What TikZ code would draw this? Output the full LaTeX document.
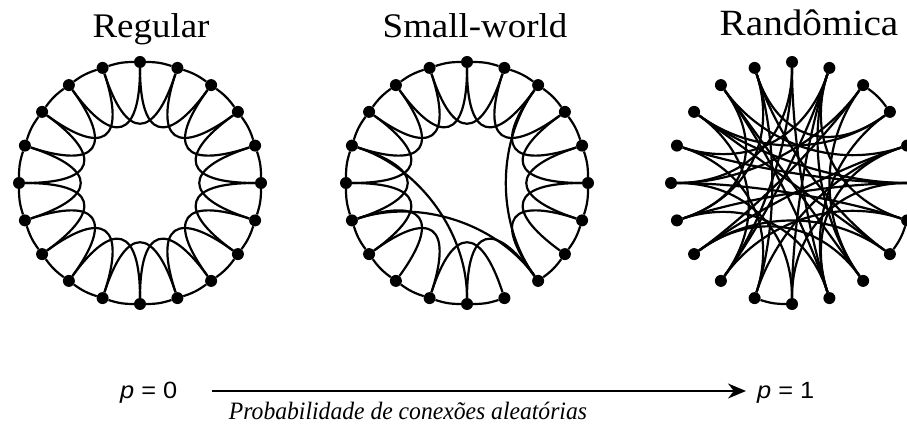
\documentclass[tikz,border=0pt]{standalone}
\usepackage{graphicx}
\usepackage{fontspec}
\setmainfont{Liberation Serif}
\newfontfamily\sansf{Liberation Sans}
\usetikzlibrary{calc,arrows.meta}
\begin{document}
\begin{tikzpicture}[x=1pt,y=1pt,
  dot/.style={circle,fill=black,inner sep=0pt,minimum size=12pt},
  edge/.style={line width=2.2pt,black},
  ring/.style={edge,bend left=9},
  title/.style={font=\fontsize{34.5}{38}\selectfont,inner sep=0pt,anchor=base},
  lab/.style={font=\sansf\fontsize{23.5}{26}\selectfont,inner sep=0pt,anchor=base west}]
\useasboundingbox (0,0) rectangle (907,426);
\clip (0,0) rectangle (907,426);
% titles
\node[title] (t1) at (151,388) {\scalebox{1.07}[1]{Regular}};
\node[title] (t2) at (475,388) {\scalebox{1.07}[1]{Small-world}};
\node[title,font=\fontsize{37}{40}\selectfont] (t3) at (809,390) {\scalebox{1.06}[1]{Randômica}};
% nodes
\foreach \g/\cx in {r/140,s/467,n/792}{
  \foreach \k in {0,...,19}{
    \node[dot] (\g\k) at ($(\cx,243)+({90-18*\k}:121)$) {};
  }
}
% regular lattice
\foreach \i in {0,...,19}{
  \pgfmathtruncatemacro\j{mod(\i+1,20)}
  \pgfmathtruncatemacro\m{mod(\i+2,20)}
  \pgfmathtruncatemacro\ao{270-18*\i}
  \pgfmathtruncatemacro\ai{270-18*\m}
  \draw[ring] (r\i) to (r\j);
  \draw[edge] (r\i) to[out=\ao,in=\ai,distance=70pt] (r\m);
}
% small world
\foreach \i in {0,...,19}{
  \pgfmathtruncatemacro\j{mod(\i+1,20)}
  \pgfmathtruncatemacro\m{mod(\i+2,20)}
  \pgfmathtruncatemacro\ao{270-18*\i}
  \pgfmathtruncatemacro\ai{270-18*\m}
  \ifnum\i=8 \else \draw[ring] (s\i) to (s\j); \fi
  \ifnum\i=7 \else \ifnum\i=10 \else
    \draw[edge] (s\i) to[out=\ao,in=\ai,distance=70pt] (s\m);
  \fi\fi
}
\foreach \a/\b in {16/10,14/8,2/8}{
  \pgfmathtruncatemacro\ao{270-18*\a}
  \pgfmathtruncatemacro\ai{270-18*\b}
  \draw[edge] (s\a) to[out=\ao,in=\ai,distance=65pt] (s\b);
}
% random
\foreach \a/\b in {2/3,6/7,10/11}{
  \draw[ring] (n\a) to (n\b);
}
\foreach \a/\b in {0/9,0/12,0/15,19/3,19/7,19/14,18/8,18/4,17/7,17/12,17/3,
  16/5,16/11,16/1,15/6,15/10,14/5,14/9,13/2,13/7,12/1,12/6,11/4,10/1,10/5,
  9/18,9/4,8/1,8/13,6/1,5/17,4/13,3/9,2/8,11/19,14/18,15/2}{
  \pgfmathtruncatemacro\ao{270-18*\a}
  \pgfmathtruncatemacro\ai{270-18*\b}
  \draw[edge] (n\a) to[out=\ao,in=\ai,distance=68pt] (n\b);
}
% bottom axis
\node[lab] (p0) at (120,28) {\scalebox{1.08}[1]{\textit{p} = 0}};
\node[lab] (p1) at (757,28) {\scalebox{1.08}[1]{\textit{p} = 1}};
\coordinate (a0) at (212,35);
\coordinate (a1) at (746,35);
\draw[line width=1.8pt,-{Stealth[length=18pt,width=15pt]}] (a0) -- (a1);
\node[font=\itshape\fontsize{25}{28}\selectfont,inner sep=0pt,anchor=base] (cap) at (408,7) {\scalebox{0.945}[1]{Probabilidade de conexões aleatórias}};
\end{tikzpicture}
\end{document}
